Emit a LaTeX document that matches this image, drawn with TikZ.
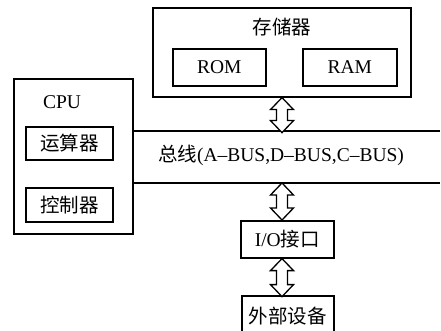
\documentclass[tikz,border=0pt]{standalone}
\usepackage{fontspec}
\setmainfont{Liberation Serif}
\newfontfamily\cjk{Noto Sans CJK SC}
\newcommand\hollowarrow[2]{\draw[harrow] #1 -- ++(11.5,12) -- ++(-6,0) -- ++(0,#2) -- ++(6,0) -- ++(-11.5,12) -- ++(-11.5,-12) -- ++(6,0) -- ++(0,-#2) -- ++(-6,0) -- cycle;}
\begin{document}
\begin{tikzpicture}[x=1pt,y=-1pt,
  box/.style={draw, line width=1.6pt, inner sep=0pt, anchor=north west, font=\fontsize{19.5}{21}\selectfont},
  lbl/.style={inner sep=0pt, font=\fontsize{19.5}{21}\selectfont},
  harrow/.style={draw, line width=1.3pt, fill=white, line join=miter},
  busline/.style={line width=1.6pt}]
\useasboundingbox (0,0) rectangle (441,331);
\clip (0,0) rectangle (441,331);
% memory
\node[box, minimum width=258pt, minimum height=89pt] (mem) at (152,7) {};
\node[lbl] (memlbl) at (282,27) {\cjk 存储器};
\node[box, minimum width=93pt, minimum height=37pt] (rom) at (172,48) {ROM};
\node[box, minimum width=94pt, minimum height=37pt] (ram) at (302,48) {RAM};
% cpu
\node[box, minimum width=119pt, minimum height=155pt] (cpu) at (13,78) {};
\node[lbl] (cpulbl) at (62,102) {CPU};
\node[box, minimum width=87pt, minimum height=33pt] (alu) at (25,126) {\cjk 运算器};
\node[box, minimum width=87pt, minimum height=34pt] (ctl) at (25,187) {\cjk 控制器};
% bus
\coordinate (busT) at (440,131);
\coordinate (busB) at (440,183);
\draw[busline] (cpu.east |- busT) -- (busT);
\draw[busline] (cpu.east |- busB) -- (busB);
\node[lbl] (buslbl) at (281,155) {{\cjk 总线}(A--BUS,D--BUS,C--BUS)};
% io
\node[box, minimum width=93pt, minimum height=37pt] (io) at (240,220) {I/O{\cjk 接口}};
\node[box, minimum width=92pt, minimum height=40pt] (ext) at (241,295) {\raisebox{1pt}{\cjk 外部设备}};
\coordinate (ax) at (282,0);
\hollowarrow{(mem.south -| ax)}{11}
\hollowarrow{(busB -| ax)}{13}
\hollowarrow{(io.south -| ax)}{14}
\end{tikzpicture}
\end{document}
